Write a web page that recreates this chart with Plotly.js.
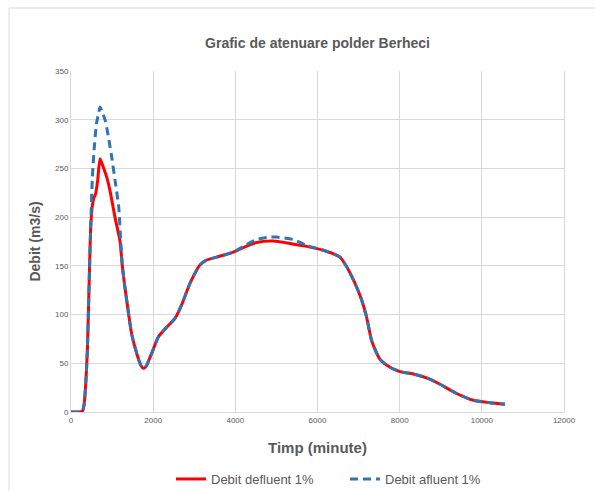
<!DOCTYPE html>
<html>
<head>
<meta charset="utf-8">
<script src="https://cdn.plot.ly/plotly-3.0.1.min.js"></script>
<style>html,body{margin:0;padding:0;background:#fff;}#chart{width:595px;height:491px;}</style>
</head>
<body>
<div id="chart"></div>
<script>
// Debit defluent 1% (red, solid)
const xDefluent = [0, 100, 200, 280, 320, 360, 400, 440, 480, 520, 560, 600, 650, 706, 780, 870, 950, 1070, 1190, 1250, 1300, 1355, 1477, 1600, 1700, 1760, 1830, 1923, 2000, 2125, 2329, 2531, 2693, 2896, 3140, 3302, 3546, 3951, 4154, 4519, 4925, 5330, 5736, 6141, 6547, 6710, 6913, 7075, 7197, 7319, 7522, 7765, 8009, 8333, 8658, 8982, 9388, 9794, 10199, 10564];
const yDefluent = [0, 0, 0, 1, 8, 30, 65, 130, 190, 212, 220, 224, 238, 260, 252, 241, 227, 200, 176, 150, 132, 115, 80, 60, 48, 45, 47, 56, 64, 77, 87, 96, 110, 132, 151, 156, 159, 164, 168, 174, 175.5, 173, 170, 166, 159, 149, 132, 115, 97, 73, 54, 46, 41.5, 39, 35, 28.5, 19, 12, 9.6, 8];
// Debit afluent 1% (blue, dashed)
const xAfluent = [0, 100, 200, 280, 320, 360, 400, 440, 480, 519, 560, 620, 674, 706, 760, 835, 908, 990, 1071, 1160, 1209, 1250, 1300, 1355, 1477, 1600, 1700, 1760, 1830, 1923, 2000, 2125, 2329, 2531, 2693, 2896, 3140, 3302, 3546, 3951, 4154, 4519, 4844, 5000, 5411, 5736, 6141, 6547, 6710, 6913, 7075, 7197, 7319, 7522, 7765, 8009, 8333, 8658, 8982, 9388, 9794, 10199, 10564];
const yAfluent = [0, 0, 0, 1, 8, 30, 65, 130, 190, 240, 268, 296, 307, 313, 308, 299, 283, 262, 238, 211, 176, 150, 132, 115, 80, 60, 48, 45, 47, 56, 64, 77, 87, 96, 110, 132, 151, 156, 159, 164, 169, 177, 179.5, 179.5, 177, 171, 166, 159, 149, 132, 115, 97, 73, 54, 46, 41.5, 39, 35, 28.5, 19, 12, 9.6, 8];
const seriesNames = ['Debit defluent 1%', 'Debit afluent 1%'];
const xTickVals = [0, 2000, 4000, 6000, 8000, 10000, 12000];
const yTickVals = [0, 50, 100, 150, 200, 250, 300, 350];

const grey = '#595959';
const traces = [
  {x: xDefluent, y: yDefluent, name: seriesNames[0], type: 'scatter', mode: 'lines',
   line: {color: '#FF0000', width: 3, shape: 'spline', smoothing: 0.6}},
  {x: xAfluent, y: yAfluent, name: seriesNames[1], type: 'scatter', mode: 'lines',
   line: {color: '#2E75B6', width: 3, dash: '8px,5px', shape: 'spline', smoothing: 0.6}}
];
const layout = {
  width: 595, height: 491,
  margin: {l: 71, r: 31, t: 71, b: 79},
  paper_bgcolor: '#ffffff', plot_bgcolor: '#ffffff',
  font: {family: 'Liberation Sans, Arial, sans-serif', color: grey},
  title: {text: 'Grafic de atenuare polder Berheci', x: 0.5, xref: 'paper', xanchor: 'center',
          y: 1 - 43/491, yref: 'container', yanchor: 'middle',
          font: {size: 14, color: grey, family: 'Liberation Sans, Arial, sans-serif', weight: 'bold'}},
  xaxis: {range: [0, 12000], tickvals: xTickVals, ticktext: xTickVals.map(String),
          showgrid: true, gridcolor: '#D9D9D9', gridwidth: 1, zeroline: false,
          showline: true, linecolor: '#D9D9D9', linewidth: 1, ticks: '',
          tickfont: {size: 8, color: grey}, ticklen: 0,
          title: {text: 'Timp (minute)', standoff: 18, font: {size: 15, color: grey, weight: 'bold'}}},
  yaxis: {range: [0, 350], tickvals: yTickVals, ticktext: yTickVals.map(String),
          showgrid: true, gridcolor: '#D9D9D9', gridwidth: 1, zeroline: false,
          showline: true, linecolor: '#D9D9D9', linewidth: 1, mirror: true, ticks: '',
          tickfont: {size: 8, color: grey},
          title: {text: 'Debit (m3/s)', standoff: 11, font: {size: 14, color: grey, weight: 'bold'}}},
  legend: {orientation: 'h', x: (171 - 71) / 493, xanchor: 'left',
           y: 1 - 479 / 491, yref: 'container', yanchor: 'middle',
           font: {size: 13, color: grey}, traceorder: 'normal', itemwidth: 30,
           entrywidth: 129, entrywidthmode: 'pixels'},
  showlegend: true,
  shapes: [
    {type: 'line', xref: 'paper', yref: 'paper', x0: (9 - 71) / 493, x1: (9 - 71) / 493, y0: (412 - 8) / 341, y1: (412 - 495) / 341,
     line: {color: '#D9D9D9', width: 1}},
    {type: 'line', xref: 'paper', yref: 'paper', x0: (9 - 71) / 493, x1: (600 - 71) / 493, y0: (412 - 8) / 341, y1: (412 - 8) / 341,
     line: {color: '#D9D9D9', width: 1}}
  ]
};
Plotly.newPlot('chart', traces, layout, {displayModeBar: false, staticPlot: true});
</script>
</body>
</html>
